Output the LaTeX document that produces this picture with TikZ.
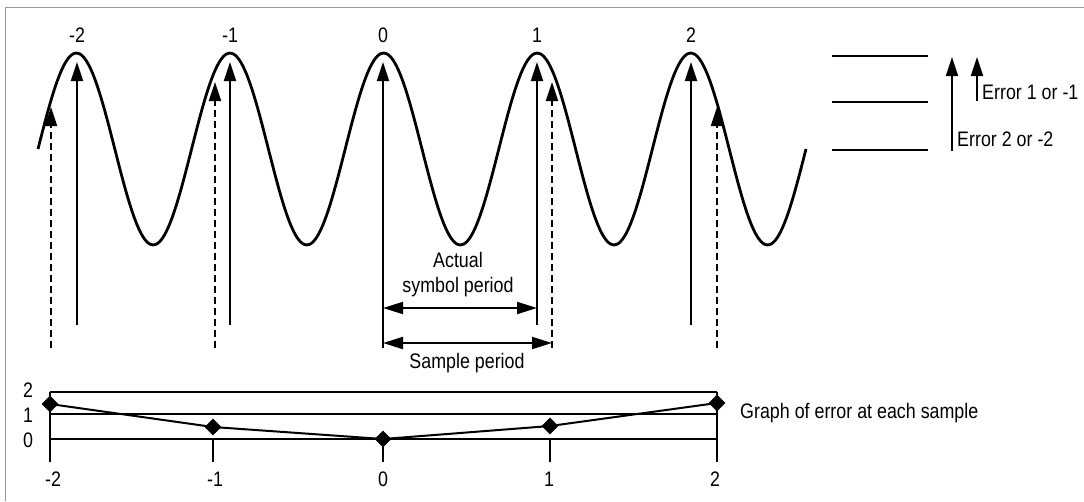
\documentclass[tikz,border=0pt]{standalone}
\usepackage{fontspec}
\setmainfont{Liberation Sans}[FakeStretch=0.85]
\usepackage{tikz}
\usetikzlibrary{arrows.meta,calc,positioning,shapes.geometric}

\begin{document}
\begin{tikzpicture}[x=1pt,y=-1pt,
  lab/.style={font=\fontsize{21}{25}\selectfont,inner sep=0pt},
  peakarrow/.style={line width=2pt,-{Triangle[length=19pt,width=12pt]}},
  samplearrow/.style={peakarrow,dash pattern=on 7pt off 4pt},
  spanarrow/.style={line width=2pt,{Triangle[length=20pt,width=12pt]}-{Triangle[length=20pt,width=12pt]}},
  errline/.style={line width=2pt},
  errmark/.style={diamond,fill=black,inner sep=0pt,minimum size=17pt}]
  \useasboundingbox (0,0) rectangle (1084,501);
  \draw[gray!80,line width=1.3pt] (5.5,501) -- (5.5,7.5) -- (1084,7.5);
  % received signal
  \draw[line width=2.8pt] plot[domain=38:806,samples=241,smooth] (\x,{149-96*sin((\x-38)*2.34375)});
  % symbol instants
  \foreach \k/\nm/\xp/\yb in {-2/pa/77/325,-1/pb/230/325,0/pc/383/348,1/pd/537/325,2/pe/691/325} {
    \node[lab] (lab\nm) at (\xp,35) {\k};
    \coordinate (bot\nm) at (\xp,\yb);
    \coordinate (top\nm) at (\xp,62);
    \draw[peakarrow] (bot\nm) -- (top\nm);
  }
  % sample instants
  \foreach \nm/\xs/\yt in {sa/51/107,sb/215/82,sd/552/82,se/717/107} {
    \coordinate (bot\nm) at (\xs,348);
    \coordinate (top\nm) at (\xs,\yt);
    \draw[samplearrow] (bot\nm) -- (top\nm);
  }
  % periods
  \coordinate (actL) at (383,308);
  \coordinate (actR) at (537,308);
  \coordinate (smpL) at (383,343);
  \coordinate (smpR) at (552,343);
  \draw[spanarrow] (actL) -- (actR);
  \draw[spanarrow] (smpL) -- (smpR);
  \node[lab,align=center] (actual) at (458,275) {Actual\\symbol period};
  \node[lab] (sample) at (467,363) {Sample period};
  % error legend
  \foreach \nm/\yl in {la/56,lb/102,lc/150} {
    \coordinate (\nm W) at (832,\yl);
    \coordinate (\nm E) at (928,\yl);
    \draw[errline] (\nm W) -- (\nm E);
  }
  \coordinate (etwoB) at (952,151);
  \coordinate (etwoT) at (952,57);
  \coordinate (eoneB) at (977,101);
  \coordinate (eoneT) at (977,57);
  \draw[peakarrow] (etwoB) -- (etwoT);
  \draw[peakarrow] (eoneB) -- (eoneT);
  \node[lab,anchor=west] (eone) at (982,92) {Error 1 or -1};
  \node[lab,anchor=west] (etwo) at (957,139) {Error 2 or -2};
  % error graph
  \draw[line width=1.3pt] (50,392) -- (717,392);
  \draw[errline] (50,414) -- (717,414);
  \draw[errline] (50,439) -- (717,439);
  \draw[errline] (50,392) -- (50,462);
  \draw[errline] (717,392) -- (717,462);
  \foreach \xt in {213,383,550} {
    \draw[errline] (\xt,439) -- (\xt,462);
  }
  \foreach \v/\yv in {2/390,1/415,0/440} {
    \node[lab] (ax\v) at (28,\yv) {\v};
  }
  \foreach \k/\xt in {-2/53,-1/215,0/383,1/549,2/715} {
    \node[lab] at (\xt,479) {\k};
  }
  \node[errmark] (d1) at (50,404) {};
  \node[errmark] (d2) at (213,427) {};
  \node[errmark] (d3) at (383,439) {};
  \node[errmark] (d4) at (550,426) {};
  \node[errmark] (d5) at (717,403) {};
  \draw[errline] (d1.center) -- (d2.center) -- (d3.center) -- (d4.center) -- (d5.center);
  \node[lab,anchor=west] (graph) at (740,413) {Graph of error at each sample};
\end{tikzpicture}
\end{document}
